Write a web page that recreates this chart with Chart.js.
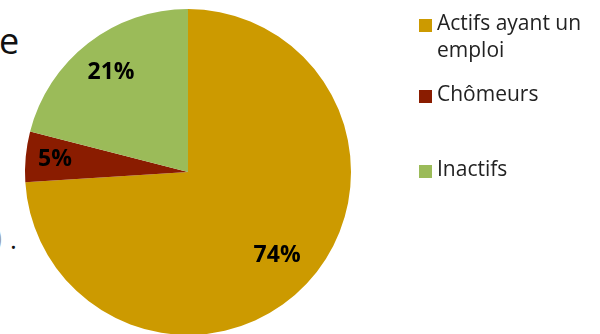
<!DOCTYPE html>
<html lang="fr">
<head>
<meta charset="utf-8">
<script src="https://cdn.jsdelivr.net/npm/chart.js@4"></script>
<style>
  html, body { margin: 0; padding: 0; background: #fff; }
  body { width: 600px; height: 334px; overflow: hidden; position: relative; font-family: "Open Sans", "Noto Sans", sans-serif; }
  #wrap { position: absolute; left: 0; top: 0; width: 600px; height: 336px; }
  .side { position: absolute; color: #111; line-height: 1; }
  #legend { position: absolute; left: 0; top: 0; font-size: 21px; color: #222; }
  #legend .box { position: absolute; left: 419px; width: 13px; height: 13px; }
  #legend .txt { position: absolute; left: 437px; white-space: nowrap; line-height: 27px; }
</style>
</head>
<body>
<div class="side" style="left:-1px; top:23px; font-size:36px;">e</div>
<div class="side" style="left:-7px; top:221px; font-size:31px; color:#999;">)</div>
<div class="side" style="left:10px; top:226px; font-size:26px;">.</div>
<div id="wrap"><canvas id="pie"></canvas></div>
<div id="legend"></div>
<script>
// Répartition de la population
const labels = ['Actifs ayant un emploi', 'Chômeurs', 'Inactifs'];
const values = [74, 5, 21];
const colors = ['#CC9A00', '#8A1C00', '#9BBB59'];

// légende à droite (lignes comme dans le document d'origine)
const legendLines = [['Actifs ayant un', 'emploi'], ['Chômeurs'], ['Inactifs']];
const legendBaselines = [31, 102, 177];
const legendEl = document.getElementById('legend');
legendLines.forEach((lines, i) => {
    const box = document.createElement('span');
    box.className = 'box';
    box.style.background = colors[i];
    box.style.top = (legendBaselines[i] - 12) + 'px';
    legendEl.appendChild(box);
    const txt = document.createElement('span');
    txt.className = 'txt';
    txt.style.top = (legendBaselines[i] - 22) + 'px';
    txt.innerHTML = lines.join('<br>');
    legendEl.appendChild(txt);
});

// pourcentages posés sur chaque part
const labelRadius = [0.75, 0.82, 0.77];
const pctLabels = {
    id: 'pctLabels',
    afterDatasetsDraw(chart) {
        const ctx = chart.ctx;
        const meta = chart.getDatasetMeta(0);
        ctx.save();
        ctx.font = 'bold 23px "Open Sans", sans-serif';
        ctx.fillStyle = '#000';
        ctx.textAlign = 'center';
        ctx.textBaseline = 'middle';
        meta.data.forEach((arc, i) => {
            const p = arc.getProps(['x', 'y', 'startAngle', 'endAngle', 'outerRadius'], true);
            const mid = (p.startAngle + p.endAngle) / 2;
            const r = p.outerRadius * labelRadius[i];
            ctx.fillText(values[i] + '%', p.x + Math.cos(mid) * r, p.y + Math.sin(mid) * r);
        });
        ctx.restore();
    }
};

new Chart(document.getElementById('pie'), {
    type: 'pie',
    data: {
        labels: labels,
        datasets: [{
            data: values,
            backgroundColor: colors,
            borderWidth: 0
        }]
    },
    options: {
        responsive: true,
        maintainAspectRatio: false,
        animation: false,
        layout: { padding: { left: 25, right: 249, top: 9, bottom: 1 } },
        plugins: {
            legend: { display: false },
            tooltip: { enabled: false }
        }
    },
    plugins: [pctLabels]
});
</script>
</body>
</html>
